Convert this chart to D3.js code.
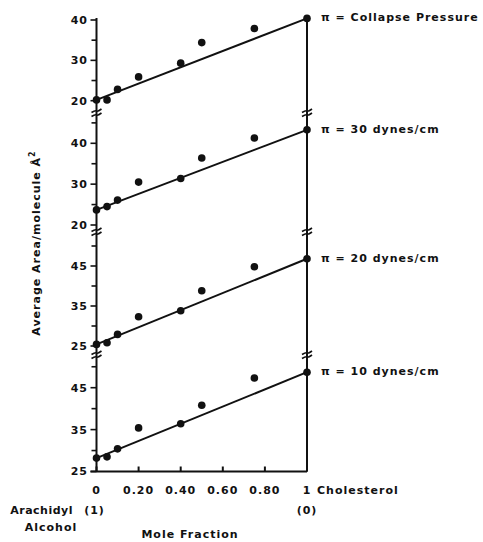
<!DOCTYPE html>
<html>
<head>
<meta charset="utf-8">
<script src="https://cdn.jsdelivr.net/npm/d3@7"></script>
<style>
  body { margin: 0; background: #fff; }
  text { font-family: "DejaVu Sans", sans-serif; font-weight: bold; font-size: 11px; letter-spacing: 1px; fill: #111; }
</style>
</head>
<body>
<svg></svg>
<script>
var width = 483,
    height = 542;

// mole fraction of cholesterol
var moleFraction = [0, 0.05, 0.1, 0.2, 0.4, 0.5, 0.75, 1];
var xTicks = [0, 0.2, 0.4, 0.6, 0.8, 1];
var xTickLabels = ["0", "0.20", "0.40", "0.60", "0.80", "1"];

// average area per molecule, one series per surface pressure
var areaCollapse = [20.2, 20.2, 22.8, 25.9, 29.3, 34.4, 37.9, 40.4];
var area30 = [23.7, 24.5, 26.1, 30.5, 31.4, 36.4, 41.3, 43.3];
var area20 = [25.4, 25.8, 27.9, 32.3, 33.8, 38.8, 44.8, 46.8];
var area10 = [28.2, 28.5, 30.4, 35.4, 36.4, 40.8, 47.3, 48.7];

var seriesLabels = ["\u03c0 = Collapse Pressure", "\u03c0 = 30 dynes/cm", "\u03c0 = 20 dynes/cm", "\u03c0 = 10 dynes/cm"];
var majorTicks = [[20, 30, 40], [20, 30, 40], [25, 35, 45], [25, 35, 45]];
var minorTicks = [[25, 35], [25, 35, 45], [30, 40, 50], [30, 40, 50]];

// each stacked panel has its own y scale (domain -> pixel range)
var panels = [
    { values: areaCollapse, domain: [20, 40], range: [100.7, 20] },
    { values: area30, domain: [20, 40], range: [225, 143.3] },
    { values: area20, domain: [25, 45], range: [346, 266] },
    { values: area10, domain: [25, 45], range: [471.5, 387.7] }
];
var breaks = [113, 232, 355];

var x = d3.scaleLinear().domain([0, 1]).range([96.5, 307]);
var axisTop = 18, axisBottom = 471.5;

var svg = d3.select("svg")
    .attr("width", width)
    .attr("height", height);

// left and right vertical axes
[0, 1].forEach(function (v) {
    svg.append("line")
        .attr("x1", x(v)).attr("x2", x(v))
        .attr("y1", axisTop).attr("y2", axisBottom)
        .attr("stroke", "#111").attr("stroke-width", 2);
});

// x axis
svg.append("line")
    .attr("x1", x(0) - 6).attr("x2", x(1))
    .attr("y1", axisBottom).attr("y2", axisBottom)
    .attr("stroke", "#111").attr("stroke-width", 2);

svg.selectAll(".xtick")
    .data(xTicks)
    .enter().append("line")
    .attr("class", "xtick")
    .attr("x1", function (d) { return x(d); })
    .attr("x2", function (d) { return x(d); })
    .attr("y1", axisBottom).attr("y2", axisBottom - 5)
    .attr("stroke", "#111").attr("stroke-width", 2);

svg.selectAll(".xlabel")
    .data(xTicks)
    .enter().append("text")
    .attr("class", "xlabel")
    .attr("x", function (d) { return x(d); })
    .attr("y", 494)
    .attr("text-anchor", "middle")
    .text(function (d, i) { return xTickLabels[i]; });

svg.append("text").attr("x", x(1) + 10).attr("y", 494).text("Cholesterol");
svg.append("text").attr("x", 73).attr("y", 514).attr("text-anchor", "end").style("letter-spacing", "0.5px").text("Arachidyl");
svg.append("text").attr("x", x(0) - 2).attr("y", 514).attr("text-anchor", "middle").text("(1)");
svg.append("text").attr("x", x(1)).attr("y", 514).attr("text-anchor", "middle").text("(0)");
svg.append("text").attr("x", 51).attr("y", 531).attr("text-anchor", "middle").text("Alcohol");
svg.append("text").attr("x", 190).attr("y", 538).attr("text-anchor", "middle").text("Mole Fraction");

// y axis title
var yTitle = svg.append("text")
    .attr("transform", "translate(40,243) rotate(-90)")
    .attr("text-anchor", "middle")
    .text("Average Area/molecule \u00c5");
yTitle.append("tspan").attr("dy", -5).style("font-size", "8px").text("2");

// break marks on both axes
breaks.forEach(function (b) {
    [0, 1].forEach(function (v) {
        var cx = x(v);
        [-2, 2].forEach(function (o) {
            svg.append("path")
                .attr("d", "M" + (cx - 5) + "," + (b + o + 1.5) + " Q" + (cx - 1) + "," + (b + o - 1) + " " + cx + "," + (b + o) + " T" + (cx + 5) + "," + (b + o - 2))
                .attr("fill", "none")
                .attr("stroke", "#111").attr("stroke-width", 1.6);
        });
    });
});

panels.forEach(function (p, i) {
    var y = d3.scaleLinear().domain(p.domain).range(p.range);
    var g = svg.append("g");

    g.selectAll(".major")
        .data(majorTicks[i])
        .enter().append("line")
        .attr("x1", x(0) - 6).attr("x2", x(0))
        .attr("y1", function (d) { return y(d); })
        .attr("y2", function (d) { return y(d); })
        .attr("stroke", "#111").attr("stroke-width", 1.6);

    g.selectAll(".minor")
        .data(minorTicks[i])
        .enter().append("line")
        .attr("x1", x(0) - 5).attr("x2", x(0))
        .attr("y1", function (d) { return y(d); })
        .attr("y2", function (d) { return y(d); })
        .attr("stroke", "#111").attr("stroke-width", 1.6);

    g.selectAll(".ylabel")
        .data(majorTicks[i])
        .enter().append("text")
        .attr("x", 88)
        .attr("y", function (d) { return y(d); })
        .attr("dy", "0.36em")
        .attr("text-anchor", "end")
        .text(function (d) { return d; });

    var n = p.values.length;
    g.append("line")
        .attr("x1", x(moleFraction[0])).attr("y1", y(p.values[0]))
        .attr("x2", x(moleFraction[n - 1])).attr("y2", y(p.values[n - 1]))
        .attr("stroke", "#111").attr("stroke-width", 2);

    g.selectAll("circle")
        .data(p.values)
        .enter().append("circle")
        .attr("cx", function (d, j) { return x(moleFraction[j]); })
        .attr("cy", function (d) { return y(d); })
        .attr("r", 3.8)
        .attr("fill", "#111");

    g.append("text")
        .attr("x", x(1) + 14)
        .attr("y", y(p.values[n - 1]) - 1)
        .attr("dy", "0.36em")
        .text(seriesLabels[i]);
});
</script>
</body>
</html>
